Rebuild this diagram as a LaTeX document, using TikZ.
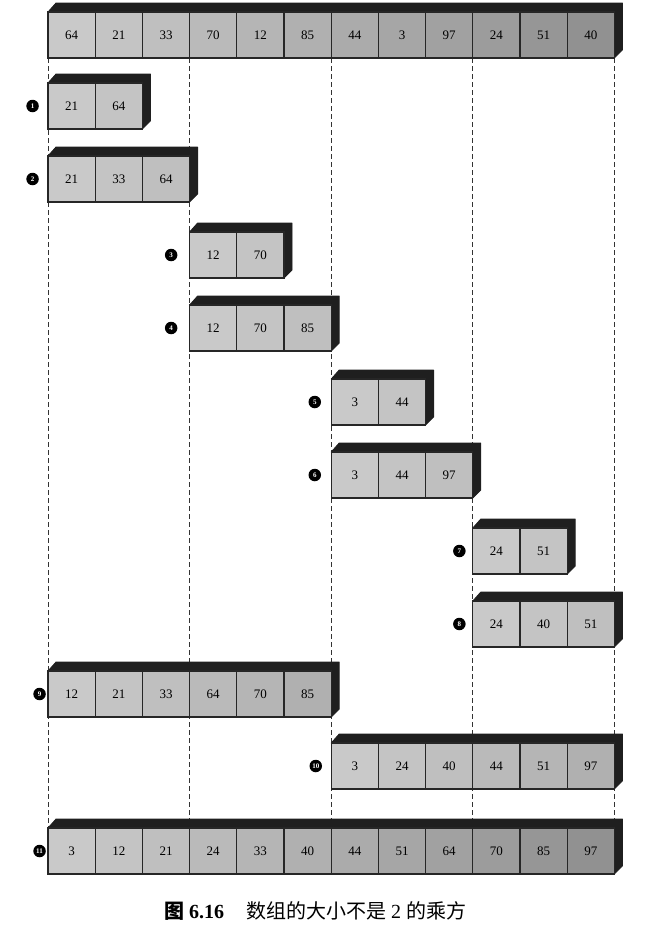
\documentclass[tikz,border=0pt]{standalone}
\usepackage{fontspec}
\setmainfont{Liberation Serif}
\newfontfamily\cjk{Noto Sans CJK SC}
\usetikzlibrary{positioning,backgrounds}

\tikzset{
  cell/.style={draw=black!85, line width=1.2pt, minimum width=47.2pt, minimum height=46pt,
    inner sep=0pt, outer sep=0pt, font=\fontsize{13}{15}\selectfont},
  slab/.style={fill=black!88, draw=black!88, line width=0.8pt, line join=round},
  stepmark/.style={circle, fill=black, text=white, inner sep=0pt, minimum size=12.5pt,
    font=\fontsize{7}{8}\selectfont\bfseries},
  guide/.style={black!80, line width=1pt, dash pattern=on 5pt off 3pt},
}

% one array: name, left x, top y, values
\newcommand{\cellrow}[4]{%
  \foreach \v [count=\i] in {#4} {\xdef\ncells{\i}}
  \pgfmathsetmacro\rowend{#2+\ncells*47.2}
  \fill[slab] (#2,#3) -- ++(8,-9) -- ({\rowend+8},{#3-9}) -- ({\rowend+8},{#3+38})
    -- (\rowend,{#3+46}) -- cycle;
  \foreach \v [count=\i] in {#4} {
    \pgfmathtruncatemacro\tone{19+2*\i}
    \node[cell, fill=black!\tone!white] (#1-\i) at ({#2+(\i-0.5)*47.2},{#3+23}) {\v};
  }
}

\begin{document}
\begin{tikzpicture}[x=1pt, y=-1pt]
\useasboundingbox (0,0) rectangle (660,937);

% input array
\cellrow{r0}{48}{12}{64,21,33,70,12,85,44,3,97,24,51,40}

% merge steps
\cellrow{r1}{48}{83}{21,64}
\cellrow{r2}{48}{156}{21,33,64}
\cellrow{r3}{189.6}{232}{12,70}
\cellrow{r4}{189.6}{305}{12,70,85}
\cellrow{r5}{331.2}{379}{3,44}
\cellrow{r6}{331.2}{452}{3,44,97}
\cellrow{r7}{472.8}{528}{24,51}
\cellrow{r8}{472.8}{601}{24,40,51}
\cellrow{r9}{48}{671}{12,21,33,64,70,85}
\cellrow{r10}{331.2}{743}{3,24,40,44,51,97}
\cellrow{r11}{48}{828}{3,12,21,24,33,40,44,51,64,70,85,97}

% step numbers
\foreach \s/\g in {1/9,2/9,3/12,4/12,5/10,6/10,7/7,8/7,9/2,10/9,11/2}
  \node[stepmark, left=\g pt of r\s-1] (m\s) {\s};

% dashed guides behind the arrays
\begin{scope}[on background layer]
  \foreach \c in {1,4,7,10}
    \draw[guide] (r0-\c.south west) -- (r11-\c.north west);
  \draw[guide] (r0-12.south east) -- (r11-12.north east);
\end{scope}

% caption
\node[font=\fontsize{20}{23}\selectfont] (caption) at (315,911)
  {{\cjk\bfseries 图} \textbf{6.16}\hspace{1.1em}{\cjk 数组的大小不是} 2 {\cjk 的乘方}};

\end{tikzpicture}
\end{document}
